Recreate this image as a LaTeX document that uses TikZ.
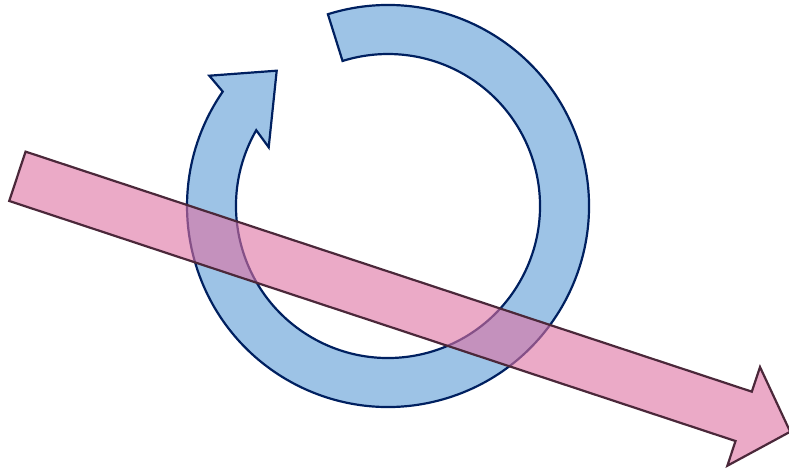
\documentclass[tikz,border=0pt]{standalone}
\usetikzlibrary{calc}
\definecolor{bluefill}{RGB}{157,195,230}
\definecolor{blueline}{RGB}{0,32,96}
\definecolor{pinkfill}{RGB}{222,113,162}
\definecolor{pinkline}{RGB}{75,40,58}
\tikzset{
  ringarrow/.style={fill=bluefill, draw=blueline, line width=2.2pt, line join=miter},
  flatarrow/.style={fill=pinkfill, fill opacity=0.6, draw=pinkline, draw opacity=1, line width=2.2pt, line join=miter}
}
\begin{document}
\begin{tikzpicture}[x=1pt,y=-1pt]
\useasboundingbox (0,0) rectangle (789,474);
\coordinate (c) at (388,206);
\coordinate (outnotch) at (223,91.5);
\coordinate (barbA) at (209.3,75.7);
\coordinate (tipA) at (276.7,70.7);
\coordinate (barbB) at (268.7,147.3);
\draw[ringarrow] ($(c)+(107.4:201pt)$)
  arc[start angle=107.4, end angle=-214.7, radius=201pt]
  -- (barbA) -- (tipA) -- (barbB)
  -- ($(c)+(150.1:152pt)$)
  arc[start angle=-209.9, end angle=107.4, radius=152pt] -- cycle;
\begin{scope}[shift={(17.4,176.3)}, rotate=-18.29]
\coordinate (s1) at (0,-26);
\coordinate (s2) at (765,-26);
\coordinate (s3) at (765,-52);
\coordinate (tipB) at (814,0);
\coordinate (s4) at (765,52);
\coordinate (s5) at (765,26);
\coordinate (s6) at (0,26);
\draw[flatarrow] (s1) -- (s2) -- (s3) -- (tipB) -- (s4) -- (s5) -- (s6) -- cycle;
\end{scope}
\end{tikzpicture}
\end{document}
